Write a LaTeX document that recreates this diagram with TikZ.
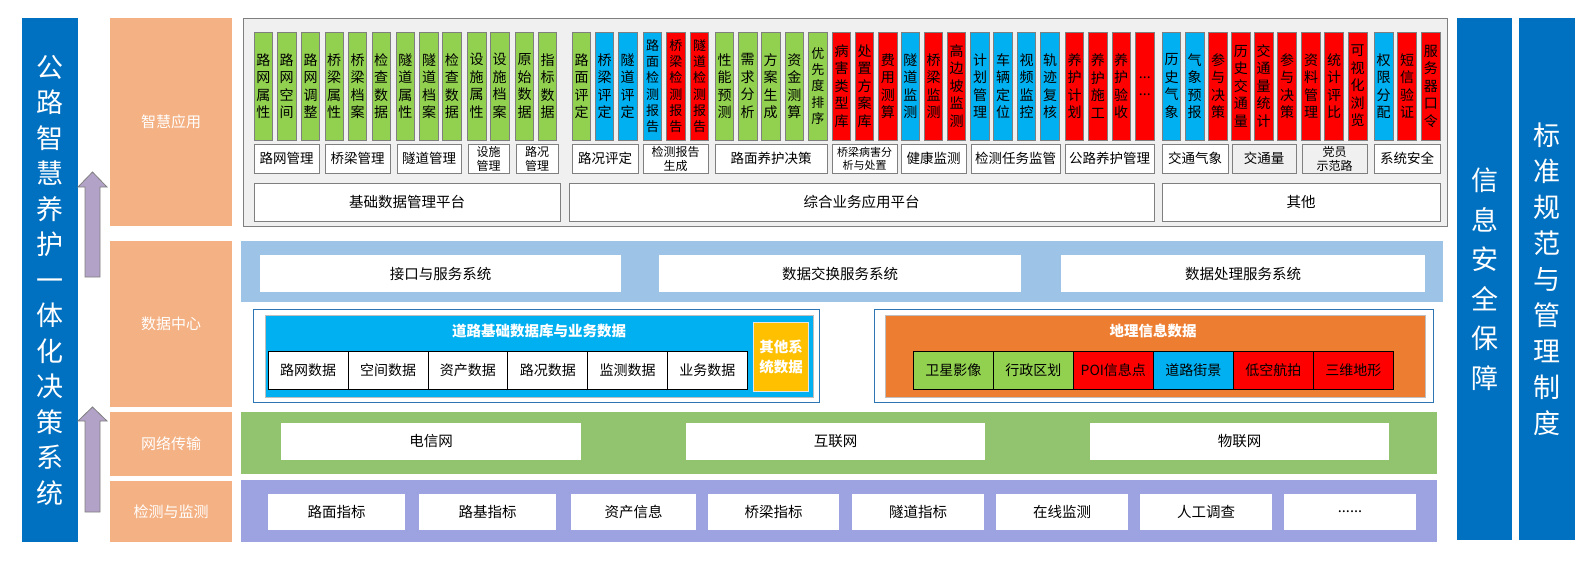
\documentclass[tikz,border=0pt]{standalone}
\usepackage{fontspec}
\setmainfont{Noto Sans CJK SC}
\usetikzlibrary{positioning}
\definecolor{barblue}{HTML}{0070C0}
\definecolor{layerorange}{HTML}{F4B183}
\definecolor{arrowlilac}{HTML}{B3A2C7}
\definecolor{panelgray}{HTML}{F0F0F0}
\definecolor{edgegray}{HTML}{7F7F7F}
\definecolor{cg}{HTML}{92D050}
\definecolor{cb}{HTML}{00B0F0}
\definecolor{cr}{HTML}{FF0000}
\definecolor{bandblue}{HTML}{9DC3E6}
\definecolor{frameblue}{HTML}{2E75B6}
\definecolor{otheryellow}{HTML}{FFC000}
\definecolor{geoorange}{HTML}{ED7D31}
\definecolor{netgreen}{HTML}{92C36E}
\definecolor{sensepurple}{HTML}{9CA3E0}

\newcommand\cellfontn{\fontsize{14}{17.5}\selectfont}
\newcommand\cellfonts{\fontsize{13}{16.3}\selectfont}

\tikzset{
  sidebar/.style={fill=barblue, text=white, inner sep=0pt, align=center},
  layer/.style={fill=layerorange, text=white, inner sep=0pt, minimum width=122pt, font=\fontsize{15}{18}\selectfont},
  cell/.style={draw=edgegray, line width=0.8pt, minimum width=18.5pt, minimum height=108pt, inner sep=0pt, align=center},
  mgmt/.style={draw=edgegray, line width=0.8pt, fill=white, minimum height=29pt, inner sep=0pt, align=center, font=\fontsize{13.5}{15}\selectfont},
  mgmtsmall/.style={mgmt, font=\fontsize{12}{13.5}\selectfont},
  platform/.style={draw=edgegray, line width=0.8pt, fill=white, minimum height=38pt, inner sep=0pt, font=\fontsize{14.5}{17}\selectfont},
  whitebox/.style={fill=white, inner sep=0pt, font=\fontsize{14.5}{17}\selectfont},
  datacell/.style={draw=black, line width=0.8pt, outer sep=0pt, minimum height=38.5pt, inner sep=0pt, font=\fontsize{14}{17}\selectfont},
  headtext/.style={text=white, inner sep=0pt, font=\fontsize{14.5}{17}\selectfont\bfseries},
  uparrow/.style={draw=edgegray, fill=arrowlilac, line width=0.8pt}
}

\begin{document}
\begin{tikzpicture}[x=1pt, y=-1pt]
\useasboundingbox (0,0) rectangle (1590,562);

% side bars
\node[sidebar, minimum width=56pt, minimum height=524pt, font=\fontsize{27}{35.5}\selectfont] (sys) at (50,280)
  {公\\路\\智\\慧\\养\\护\\一\\体\\化\\决\\策\\系\\统};
\node[sidebar, minimum width=55pt, minimum height=522pt, font=\fontsize{27}{39.5}\selectfont] (sec) at (1484.5,279)
  {信\\息\\安\\全\\保\\障};
\node[sidebar, minimum width=56pt, minimum height=522pt, font=\fontsize{27}{36}\selectfont] (std) at (1547,279)
  {标\\准\\规\\范\\与\\管\\理\\制\\度};

% up arrows
\draw[uparrow] (85,277) -- (85,187) -- (78,187) -- (92.5,172) -- (107,187) -- (100,187) -- (100,277) -- cycle;
\draw[uparrow] (85,512) -- (85,421) -- (78,421) -- (92.5,407) -- (107,421) -- (100,421) -- (100,512) -- cycle;

% layers
\node[layer, minimum height=208pt] (lApp) at (171,122) {智慧应用};
\node[layer, minimum height=166pt] (lData) at (171,324) {数据中心};
\node[layer, minimum height=64pt] (lNet) at (171,443.5) {网络传输};
\node[layer, minimum height=61pt] (lSense) at (171,511.5) {检测与监测};

% application panel
\node[draw=edgegray, line width=0.8pt, fill=panelgray, minimum width=1204pt, minimum height=208pt] (panel) at (845,122) {};

\foreach \cx/\clr/\fs/\txt [count=\i] in {
  263.3/cg/n/{路\\网\\属\\性}, 286.7/cg/n/{路\\网\\空\\间}, 310.5/cg/n/{路\\网\\调\\整},
  334.2/cg/n/{桥\\梁\\属\\性}, 357.5/cg/n/{桥\\梁\\档\\案}, 381.2/cg/n/{检\\查\\数\\据},
  405.3/cg/n/{隧\\道\\属\\性}, 429/cg/n/{隧\\道\\档\\案}, 451.8/cg/n/{检\\查\\数\\据},
  476.7/cg/n/{设\\施\\属\\性}, 499.7/cg/n/{设\\施\\档\\案}, 524.5/cg/n/{原\\始\\数\\据},
  547.5/cg/n/{指\\标\\数\\据},
  581.5/cg/n/{路\\面\\评\\定}, 604.5/cb/n/{桥\\梁\\评\\定}, 627.7/cb/n/{隧\\道\\评\\定},
  652.5/cb/s/{路\\面\\检\\测\\报\\告}, 675.8/cr/s/{桥\\梁\\检\\测\\报\\告}, 699.5/cr/s/{隧\\道\\检\\测\\报\\告},
  724.5/cg/n/{性\\能\\预\\测}, 747.7/cg/n/{需\\求\\分\\析}, 770.7/cg/n/{方\\案\\生\\成},
  794.3/cg/n/{资\\金\\测\\算}, 817.8/cg/s/{优\\先\\度\\排\\序},
  841.5/cr/n/{病\\害\\类\\型\\库}, 864.5/cr/n/{处\\置\\方\\案\\库}, 887.8/cr/n/{费\\用\\测\\算},
  910.3/cb/n/{隧\\道\\监\\测}, 933.5/cr/n/{桥\\梁\\监\\测}, 956.5/cr/n/{高\\边\\坡\\监\\测},
  980/cb/n/{计\\划\\管\\理}, 1003/cb/n/{车\\辆\\定\\位}, 1026.5/cb/n/{视\\频\\监\\控},
  1050/cb/n/{轨\\迹\\复\\核},
  1074.5/cr/n/{养\\护\\计\\划}, 1097.8/cr/n/{养\\护\\施\\工}, 1121.2/cr/n/{养\\护\\验\\收},
  1144.8/cr/n/{...\\...},
  1171.5/cb/n/{历\\史\\气\\象}, 1194.7/cb/n/{气\\象\\预\\报}, 1218/cr/n/{参\\与\\决\\策},
  1240.8/cr/n/{历\\史\\交\\通\\量}, 1263.7/cr/n/{交\\通\\量\\统\\计}, 1287/cr/n/{参\\与\\决\\策},
  1311/cr/n/{资\\料\\管\\理}, 1334/cr/n/{统\\计\\评\\比}, 1357.7/cr/n/{可\\视\\化\\浏\\览},
  1383.7/cb/n/{权\\限\\分\\配}, 1407/cr/n/{短\\信\\验\\证}, 1430.8/cr/n/{服\\务\\器\\口\\令}}
  \node[cell, fill=\clr, font=\csname cellfont\fs\endcsname] (c\i) at (\cx,86) {\txt};

% management row
\node[mgmt, minimum width=65pt] (mRoad) at (286.5,158.7) {路网管理};
\node[mgmt, minimum width=65pt] (mBridge) at (357.5,158.7) {桥梁管理};
\node[mgmt, minimum width=64pt] (mTunnel) at (429,158.7) {隧道管理};
\node[mgmtsmall, minimum width=41pt] (mFacil) at (488.5,158.7) {设施\\管理};
\node[mgmtsmall, minimum width=42pt] (mCond) at (537,158.7) {路况\\管理};
\node[mgmt, minimum width=66pt] (mRate) at (605,158.7) {路况评定};
\node[mgmtsmall, minimum width=65pt] (mReport) at (675.5,158.7) {检测报告\\生成};
\node[mgmt, minimum width=112pt] (mDecide) at (771,158.7) {路面养护决策};
\node[mgmtsmall, minimum width=65pt, font=\fontsize{11}{13.5}\selectfont] (mDisease) at (864.5,158.7) {桥梁病害分\\析与处置};
\node[mgmt, minimum width=65pt] (mHealth) at (933.5,158.7) {健康监测};
\node[mgmt, minimum width=89pt] (mTask) at (1015.5,158.7) {检测任务监管};
\node[mgmt, minimum width=89pt] (mMaint) at (1109.5,158.7) {公路养护管理};
\node[mgmt, minimum width=66pt] (mWeather) at (1195,158.7) {交通气象};
\node[mgmt, fill=panelgray, minimum width=64pt] (mTraffic) at (1264,158.7) {交通量};
\node[mgmtsmall, fill=panelgray, minimum width=65pt] (mParty) at (1334.5,158.7) {党员\\示范路};
\node[mgmt, minimum width=66pt] (mSafe) at (1407,158.7) {系统安全};

% platforms
\node[platform, minimum width=306pt] (pBase) at (407,202) {基础数据管理平台};
\node[platform, minimum width=585pt] (pBiz) at (861.5,202) {综合业务应用平台};
\node[platform, minimum width=278pt] (pOther) at (1301,202) {其他};

% data centre
\node[fill=bandblue, minimum width=1202pt, minimum height=61pt] (svcBand) at (841.5,271.5) {};
\node[whitebox, minimum width=361pt, minimum height=37pt] (svcApi) at (440.5,273.5) {接口与服务系统};
\node[whitebox, minimum width=362pt, minimum height=37pt] (svcSwap) at (840,273.5) {数据交换服务系统};
\node[whitebox, minimum width=364pt, minimum height=37pt] (svcProc) at (1243,273.5) {数据处理服务系统};

\node[draw=frameblue, line width=1pt, minimum width=566pt, minimum height=93.5pt] (roadFrame) at (536.5,355.75) {};
\node[draw=black!25, fill=cb, line width=0.8pt, minimum width=547.3pt, minimum height=82.5pt] (roadDb) at (539.35,356.25) {};
\node[headtext] (roadTitle) at (539,331) {道路基础数据库与业务数据};
\node[datacell, minimum width=79.85pt, fill=white] (d1) at (308.2,370.25) {路网数据};
\node[datacell, minimum width=79.85pt, fill=white, right=0pt of d1] (d2) {空间数据};
\node[datacell, minimum width=79.85pt, fill=white, right=0pt of d2] (d3) {资产数据};
\node[datacell, minimum width=79.85pt, fill=white, right=0pt of d3] (d4) {路况数据};
\node[datacell, minimum width=79.85pt, fill=white, right=0pt of d4] (d5) {监测数据};
\node[datacell, minimum width=79.85pt, fill=white, right=0pt of d5] (d6) {业务数据};
\node[draw=white!90!black, fill=otheryellow, line width=0.8pt, minimum width=55pt, minimum height=69pt,
  align=center, text=white, inner sep=0pt, font=\fontsize{14.5}{20}\selectfont\bfseries] (otherData) at (781,357) {其他系\\统数据};

\node[draw=frameblue, line width=1pt, minimum width=559pt, minimum height=93.5pt] (geoFrame) at (1153.5,355.75) {};
\node[draw=black!25, fill=geoorange, line width=0.8pt, minimum width=540.5pt, minimum height=82.5pt] (geoDb) at (1155.25,356.25) {};
\node[headtext] (geoTitle) at (1153,331) {地理信息数据};
\node[datacell, minimum width=80pt, fill=cg] (g1) at (953.3,370.25) {卫星影像};
\node[datacell, minimum width=80pt, fill=cg, right=0pt of g1] (g2) {行政区划};
\node[datacell, minimum width=80pt, fill=cr, right=0pt of g2] (g3) {POI信息点};
\node[datacell, minimum width=80pt, fill=cb, right=0pt of g3] (g4) {道路街景};
\node[datacell, minimum width=80pt, fill=cr, right=0pt of g4] (g5) {低空航拍};
\node[datacell, minimum width=80pt, fill=cr, right=0pt of g5] (g6) {三维地形};

% network
\node[fill=netgreen, minimum width=1196.5pt, minimum height=62.5pt] (netBand) at (838.75,442.75) {};
\node[whitebox, minimum width=300pt, minimum height=37pt] (netTel) at (431,441.5) {电信网};
\node[whitebox, minimum width=299pt, minimum height=37pt] (netWeb) at (835.5,441.5) {互联网};
\node[whitebox, minimum width=299pt, minimum height=37pt] (netIot) at (1239.5,441.5) {物联网};

% sensing
\node[fill=sensepurple, minimum width=1196.5pt, minimum height=62pt] (senseBand) at (838.75,511) {};
\node[whitebox, minimum width=137pt, minimum height=36pt] (sPave) at (336.5,512) {路面指标};
\node[whitebox, minimum width=137pt, minimum height=36pt] (sBase) at (487.5,512) {路基指标};
\node[whitebox, minimum width=125pt, minimum height=36pt] (sAsset) at (633.5,512) {资产信息};
\node[whitebox, minimum width=131pt, minimum height=36pt] (sBridge) at (773.5,512) {桥梁指标};
\node[whitebox, minimum width=132pt, minimum height=36pt] (sTunnel) at (918,512) {隧道指标};
\node[whitebox, minimum width=132pt, minimum height=36pt] (sOnline) at (1062,512) {在线监测};
\node[whitebox, minimum width=132pt, minimum height=36pt] (sManual) at (1206,512) {人工调查};
\node[whitebox, minimum width=132pt, minimum height=36pt] (sMore) at (1350,512) {......};
\end{tikzpicture}
\end{document}
